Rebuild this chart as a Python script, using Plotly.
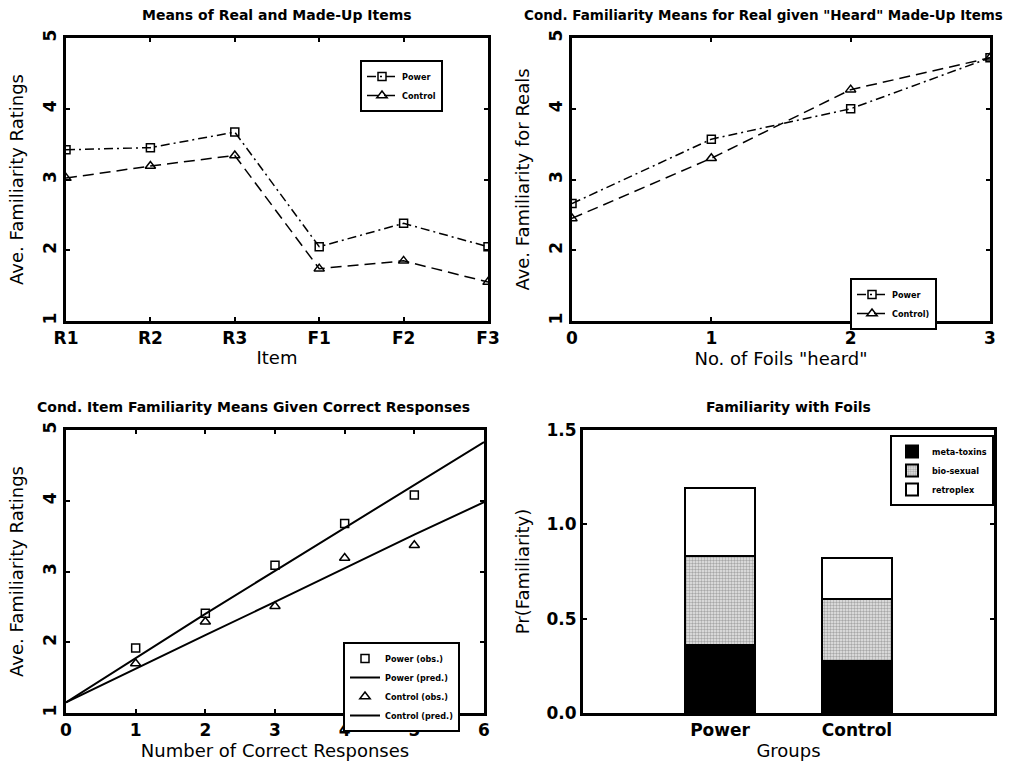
import plotly.graph_objects as go

# ---------- data ----------
items = ["R1", "R2", "R3", "F1", "F2", "F3"]
item_pos = [0, 1, 2, 3, 4, 5]
power_items = [3.42, 3.45, 3.67, 2.05, 2.38, 2.05]
control_items = [3.02, 3.19, 3.34, 1.74, 1.85, 1.55]

foils = [0, 1, 2, 3]
power_foils = [2.66, 3.57, 4.00, 4.72]
control_foils = [2.45, 3.30, 4.27, 4.72]

correct = [1, 2, 3, 4, 5]
power_obs = [1.92, 2.41, 3.09, 3.68, 4.08]
control_obs = [1.70, 2.29, 2.51, 3.19, 3.37]
pred_x = [0, 1, 2, 3, 4, 5, 6]
power_pred = [1.15, 1.78, 2.40, 3.01, 3.62, 4.22, 4.83]
control_pred = [1.15, 1.63, 2.10, 2.57, 3.05, 3.52, 3.98]

groups = ["Power", "Control"]
group_pos = [1, 2]
meta_toxins = [0.360, 0.277]
bio_sexual = [0.473, 0.326]
retroplex = [0.357, 0.217]

# ---------- style ----------
FONT = "DejaVu Sans"
W, H = 1020, 767
def px(x): return x / W
def py(y): return 1 - y / H

fig = go.Figure()

dashdot = "9px,4px,2px,4px"
dash = "11px,6px"

# Panel 1
fig.add_trace(go.Scatter(x=item_pos, y=power_items, name="Power", mode="lines+markers",
    line=dict(color="black", width=1.5, dash=dashdot),
    marker=dict(symbol="square-open", size=8, color="black", line=dict(width=1.5)),
    xaxis="x", yaxis="y", legend="legend"))
fig.add_trace(go.Scatter(x=item_pos, y=control_items, name="Control", mode="lines+markers",
    line=dict(color="black", width=1.5, dash=dash),
    marker=dict(symbol="triangle-up-open", size=9, color="black", line=dict(width=1.5)),
    xaxis="x", yaxis="y", legend="legend"))

# Panel 2
fig.add_trace(go.Scatter(x=foils, y=power_foils, name="Power", mode="lines+markers",
    line=dict(color="black", width=1.5, dash=dashdot),
    marker=dict(symbol="square-open", size=8, color="black", line=dict(width=1.5)),
    xaxis="x2", yaxis="y2", legend="legend2"))
fig.add_trace(go.Scatter(x=foils, y=control_foils, name="Control)", mode="lines+markers",
    line=dict(color="black", width=1.5, dash=dash),
    marker=dict(symbol="triangle-up-open", size=9, color="black", line=dict(width=1.5)),
    xaxis="x2", yaxis="y2", legend="legend2"))

# Panel 3
fig.add_trace(go.Scatter(x=correct, y=power_obs, name="Power (obs.)", mode="markers",
    marker=dict(symbol="square-open", size=8, color="black", line=dict(width=1.5)),
    xaxis="x3", yaxis="y3", legend="legend3"))
fig.add_trace(go.Scatter(x=pred_x, y=power_pred, name="Power (pred.)", mode="lines",
    line=dict(color="black", width=2),
    xaxis="x3", yaxis="y3", legend="legend3"))
fig.add_trace(go.Scatter(x=correct, y=control_obs, name="Control (obs.)", mode="markers",
    marker=dict(symbol="triangle-up-open", size=9, color="black", line=dict(width=1.5)),
    xaxis="x3", yaxis="y3", legend="legend3"))
fig.add_trace(go.Scatter(x=pred_x, y=control_pred, name="Control (pred.)", mode="lines",
    line=dict(color="black", width=2),
    xaxis="x3", yaxis="y3", legend="legend3"))

# Panel 4
bar_w = 0.51
fig.add_trace(go.Bar(x=group_pos, y=meta_toxins, name="meta-toxins", width=bar_w,
    marker=dict(color="black", line=dict(color="black", width=2)),
    xaxis="x4", yaxis="y4", legend="legend4"))
fig.add_trace(go.Bar(x=group_pos, y=bio_sexual, name="bio-sexual", width=bar_w,
    marker=dict(color="white", line=dict(color="black", width=2),
                pattern=dict(shape=".", fgcolor="#666666", bgcolor="#e8e8e8", size=3, solidity=0.5)),
    xaxis="x4", yaxis="y4", legend="legend4"))
fig.add_trace(go.Bar(x=group_pos, y=retroplex, name="retroplex", width=bar_w,
    marker=dict(color="white", line=dict(color="black", width=2)),
    xaxis="x4", yaxis="y4", legend="legend4"))

axis_common = dict(showline=True, linewidth=3, linecolor="black", mirror="ticks",
                   ticks="inside", ticklen=4, tickwidth=2, tickcolor="black",
                   showgrid=False, zeroline=False, automargin=False,
                   tickfont=dict(family=FONT, size=17, color="black", weight="bold"),
                   title_font=dict(family=FONT, size=18, color="black"))

y_top = [py(321), py(38)]
y_bot = [py(713), py(430)]

fig.update_layout(
    width=W, height=H, margin=dict(l=0, r=0, t=0, b=0, autoexpand=False),
    paper_bgcolor="white", plot_bgcolor="white",
    barmode="stack",
    font=dict(family=FONT, color="black"),
    xaxis=dict(axis_common, domain=[px(66), px(488)], range=[0, 5],
               tickvals=item_pos, ticktext=items, anchor="y",
               title=dict(text="Item", standoff=4)),
    yaxis=dict(axis_common, domain=y_top, range=[1, 5], tickvals=[1, 2, 3, 4, 5],
               tickangle=-90, anchor="x",
               title=dict(text="Ave. Familiarity Ratings", standoff=12)),
    xaxis2=dict(axis_common, domain=[px(572), px(990)], range=[0, 3],
                tickvals=[0, 1, 2, 3], anchor="y2",
                title=dict(text='No. of Foils "heard"', standoff=4)),
    yaxis2=dict(axis_common, domain=y_top, range=[1, 5], tickvals=[1, 2, 3, 4, 5],
                tickangle=-90, anchor="x2",
                title=dict(text="Ave. Familiarity for Reals", standoff=12)),
    xaxis3=dict(axis_common, domain=[px(66), px(484)], range=[0, 6],
                tickvals=[0, 1, 2, 3, 4, 5, 6], anchor="y3",
                title=dict(text="Number of Correct Responses", standoff=5)),
    yaxis3=dict(axis_common, domain=y_bot, range=[1, 5], tickvals=[1, 2, 3, 4, 5],
                tickangle=-90, anchor="x3",
                title=dict(text="Ave. Familiarity Ratings", standoff=12)),
    xaxis4=dict(axis_common, domain=[px(583), px(994)], range=[0, 3],
                tickvals=group_pos, ticktext=groups, ticks="", mirror=True, anchor="y4",
                title=dict(text="Groups", standoff=5)),
    yaxis4=dict(axis_common, domain=y_bot, range=[0, 1.5], tickvals=[0, 0.5, 1.0, 1.5],
                tickformat=".1f", anchor="x4",
                title=dict(text="Pr(Familiarity)", standoff=13)),
)

leg_common = dict(bordercolor="black", borderwidth=2, bgcolor="white",
                  font=dict(family="DejaVu Sans Condensed", size=9, color="black", weight="bold"),
                  xanchor="left", yanchor="top", tracegroupgap=0, itemwidth=30,
                  traceorder="normal")
fig.update_layout(
    legend=dict(leg_common, x=px(360), y=py(60)),
    legend2=dict(leg_common, x=px(850), y=py(278)),
    legend3=dict(leg_common, x=px(343), y=py(642)),
    legend4=dict(leg_common, x=px(890), y=py(435)),
)

titles = [
    ("Means of Real and Made-Up Items", 277, 15, 14),
    ('Cond. Familiarity Means for Real given "Heard" Made-Up Items', 763, 15, 13.5),
    ("Cond. Item Familiarity Means Given Correct Responses", 253, 407, 14),
    ("Familiarity with Foils", 788, 407, 14),
]
for text, x, y, s in titles:
    fig.add_annotation(text=text, x=px(x), y=py(y), xref="paper", yref="paper",
                       showarrow=False, xanchor="center", yanchor="middle",
                       font=dict(family=FONT, size=s, color="black", weight="bold"))

fig.write_html("out.html", config={"displayModeBar": False},
               post_script="document.body.style.margin='0';document.body.style.padding='0';")
